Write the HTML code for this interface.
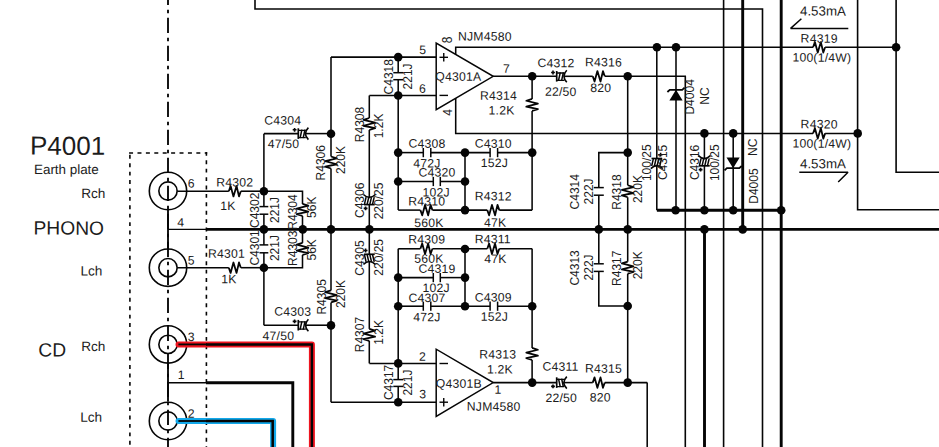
<!DOCTYPE html>
<html><head><meta charset="utf-8"><title>schematic</title>
<style>
html,body{margin:0;padding:0;background:#fff;}
body{width:939px;height:447px;overflow:hidden;}
svg{display:block;}
text{font-family:"Liberation Sans",sans-serif;}
</style></head><body>
<svg width="939" height="447" viewBox="0 0 939 447">
<rect width="939" height="447" fill="#fff"/>
<path d="M255.00,0.00 L255.00,9.00 L762.50,9.00 L762.50,447.00" fill="none" stroke="#050505" stroke-width="1.6" stroke-linecap="butt" stroke-linejoin="miter" />
<path d="M168,0 L168,447" stroke="#050505" stroke-width="1.85" fill="none" stroke-dasharray="15.3 4.55 3.5 4.65" stroke-dashoffset="10.20"/>
<path d="M168.00,210.00 L168.00,248.80" fill="none" stroke="#050505" stroke-width="1.85" stroke-linecap="butt" stroke-linejoin="miter" />
<path d="M168.00,363.50 L168.00,401.50" fill="none" stroke="#050505" stroke-width="1.85" stroke-linecap="butt" stroke-linejoin="miter" />
<path d="M129.06,153 L207.2,153" stroke="#050505" stroke-width="1.6" fill="none" stroke-dasharray="4.0 4.41" stroke-dashoffset="0"/>
<path d="M129.9,154.85 L129.9,447" stroke="#050505" stroke-width="1.6" fill="none" stroke-dasharray="3.9 4.51" stroke-dashoffset="0"/>
<path d="M206.4,151.9 L206.4,447" stroke="#050505" stroke-width="1.6" fill="none" stroke-dasharray="3.9 4.51" stroke-dashoffset="0"/>
<circle cx="168" cy="191" r="18.7" fill="none" stroke="#050505" stroke-width="1.6"/>
<circle cx="168" cy="191" r="9.15" fill="none" stroke="#050505" stroke-width="1.6"/>
<circle cx="168" cy="267.7" r="18.7" fill="none" stroke="#050505" stroke-width="1.6"/>
<circle cx="168" cy="267.7" r="9.15" fill="none" stroke="#050505" stroke-width="1.6"/>
<circle cx="168" cy="344.4" r="18.7" fill="none" stroke="#050505" stroke-width="1.6"/>
<circle cx="168" cy="344.4" r="9.15" fill="none" stroke="#050505" stroke-width="1.6"/>
<circle cx="168" cy="421.0" r="18.7" fill="none" stroke="#050505" stroke-width="1.6"/>
<circle cx="168" cy="421.0" r="9.15" fill="none" stroke="#050505" stroke-width="1.6"/>
<path d="M178.50,344.50 L311.90,344.50 L311.90,447.00" fill="none" stroke="#ee141f" stroke-width="6.0" stroke-linecap="round" stroke-linejoin="round" />
<path d="M178.40,344.40 L207.00,344.40" fill="none" stroke="#050505" stroke-width="1.8" stroke-linecap="butt" stroke-linejoin="miter" />
<path d="M206.00,344.50 L311.90,344.50 L311.90,447.00" fill="none" stroke="#050505" stroke-width="2.4" stroke-linecap="butt" stroke-linejoin="miter" />
<path d="M178.50,421.10 L273.10,421.10 L273.10,447.00" fill="none" stroke="#12a8ea" stroke-width="6.0" stroke-linecap="round" stroke-linejoin="round" />
<path d="M178.40,421.00 L207.00,421.00" fill="none" stroke="#050505" stroke-width="1.8" stroke-linecap="butt" stroke-linejoin="miter" />
<path d="M206.00,421.10 L272.70,421.10 L272.70,447.00" fill="none" stroke="#050505" stroke-width="2.5" stroke-linecap="butt" stroke-linejoin="miter" />
<path d="M177.30,191.20 L228.80,191.20" fill="none" stroke="#050505" stroke-width="1.55" stroke-linecap="butt" stroke-linejoin="miter" />
<path d="M240.80,191.20 L263.90,191.20" fill="none" stroke="#050505" stroke-width="1.55" stroke-linecap="butt" stroke-linejoin="miter" />
<path d="M228.80,191.20 L230.60,186.00 L233.45,196.40 L236.55,186.00 L239.00,196.40 L240.80,191.20" fill="none" stroke="#050505" stroke-width="1.8" stroke-linecap="butt" stroke-linejoin="round" />
<path d="M177.30,267.70 L228.80,267.70" fill="none" stroke="#050505" stroke-width="1.55" stroke-linecap="butt" stroke-linejoin="miter" />
<path d="M240.80,267.70 L263.90,267.70" fill="none" stroke="#050505" stroke-width="1.55" stroke-linecap="butt" stroke-linejoin="miter" />
<path d="M228.80,267.70 L230.60,272.90 L233.45,262.50 L236.55,272.90 L239.00,262.50 L240.80,267.70" fill="none" stroke="#050505" stroke-width="1.8" stroke-linecap="butt" stroke-linejoin="round" />
<path d="M168.00,229.40 L207.00,229.40" fill="none" stroke="#050505" stroke-width="1.4" stroke-linecap="butt" stroke-linejoin="miter" />
<path d="M206.00,229.40 L939.00,229.40" fill="none" stroke="#050505" stroke-width="2.9" stroke-linecap="butt" stroke-linejoin="miter" />
<path d="M168.00,382.70 L207.00,382.70" fill="none" stroke="#050505" stroke-width="1.4" stroke-linecap="butt" stroke-linejoin="miter" />
<path d="M206.00,382.70 L292.80,382.70 L292.80,447.00" fill="none" stroke="#050505" stroke-width="2.9" stroke-linecap="butt" stroke-linejoin="miter" />
<path d="M263.90,133.70 L263.90,206.60" fill="none" stroke="#050505" stroke-width="1.55" stroke-linecap="butt" stroke-linejoin="miter" />
<path d="M263.90,214.20 L263.90,244.90" fill="none" stroke="#050505" stroke-width="1.55" stroke-linecap="butt" stroke-linejoin="miter" />
<path d="M263.90,252.80 L263.90,325.30" fill="none" stroke="#050505" stroke-width="1.55" stroke-linecap="butt" stroke-linejoin="miter" />
<path d="M259.50,206.60 L268.30,206.60" fill="none" stroke="#050505" stroke-width="1.5" stroke-linecap="butt" stroke-linejoin="miter" />
<path d="M259.50,214.20 L268.30,214.20" fill="none" stroke="#050505" stroke-width="1.5" stroke-linecap="butt" stroke-linejoin="miter" />
<path d="M259.50,244.90 L268.30,244.90" fill="none" stroke="#050505" stroke-width="1.5" stroke-linecap="butt" stroke-linejoin="miter" />
<path d="M259.50,252.80 L268.30,252.80" fill="none" stroke="#050505" stroke-width="1.5" stroke-linecap="butt" stroke-linejoin="miter" />
<path d="M263.90,133.60 L298.30,133.60" fill="none" stroke="#050505" stroke-width="1.55" stroke-linecap="butt" stroke-linejoin="miter" />
<path d="M305.50,133.60 L331.00,133.60" fill="none" stroke="#050505" stroke-width="1.55" stroke-linecap="butt" stroke-linejoin="miter" />
<g fill="none" stroke="#050505"><path d="M298.30,128.30 L298.30,138.90" stroke-width="1.7"/><path d="M308.40,127.60 Q302.60,133.60 308.40,139.60" stroke-width="1.6"/><path d="M298.30,130.30 L305.80,130.30 M298.30,137.60 L305.80,137.60" stroke-width="1.3"/><path d="M300.10,138.00 L301.90,129.70" stroke-width="1.5"/><path d="M303.20,138.00 L305.00,129.70" stroke-width="1.5"/><path d="M292.70,129.80 L296.50,129.80 M294.60,127.90 L294.60,131.70" stroke-width="1.6"/></g>
<path d="M263.90,325.20 L298.30,325.20" fill="none" stroke="#050505" stroke-width="1.55" stroke-linecap="butt" stroke-linejoin="miter" />
<path d="M305.50,325.20 L331.00,325.20" fill="none" stroke="#050505" stroke-width="1.55" stroke-linecap="butt" stroke-linejoin="miter" />
<g fill="none" stroke="#050505"><path d="M298.30,319.90 L298.30,330.50" stroke-width="1.7"/><path d="M308.40,319.20 Q302.60,325.20 308.40,331.20" stroke-width="1.6"/><path d="M298.30,321.90 L305.80,321.90 M298.30,329.20 L305.80,329.20" stroke-width="1.3"/><path d="M300.10,329.60 L301.90,321.30" stroke-width="1.5"/><path d="M303.20,329.60 L305.00,321.30" stroke-width="1.5"/><path d="M292.70,321.40 L296.50,321.40 M294.60,319.50 L294.60,323.30" stroke-width="1.6"/></g>
<path d="M263.90,191.20 L302.50,191.20 L302.50,203.90" fill="none" stroke="#050505" stroke-width="1.55" stroke-linecap="butt" stroke-linejoin="miter" />
<path d="M302.50,203.90 L308.30,205.70 L296.70,208.55 L308.30,211.65 L296.70,214.10 L302.50,215.90" fill="none" stroke="#050505" stroke-width="1.8" stroke-linecap="butt" stroke-linejoin="round" />
<path d="M302.50,215.90 L302.50,229.40" fill="none" stroke="#050505" stroke-width="1.55" stroke-linecap="butt" stroke-linejoin="miter" />
<path d="M263.90,267.70 L302.50,267.70 L302.50,254.90" fill="none" stroke="#050505" stroke-width="1.55" stroke-linecap="butt" stroke-linejoin="miter" />
<path d="M302.50,242.90 L296.70,244.70 L308.30,247.55 L296.70,250.65 L308.30,253.10 L302.50,254.90" fill="none" stroke="#050505" stroke-width="1.8" stroke-linecap="butt" stroke-linejoin="round" />
<path d="M302.50,242.90 L302.50,229.40" fill="none" stroke="#050505" stroke-width="1.55" stroke-linecap="butt" stroke-linejoin="miter" />
<path d="M331.00,57.10 L331.00,156.50" fill="none" stroke="#050505" stroke-width="1.55" stroke-linecap="butt" stroke-linejoin="miter" />
<path d="M331.00,168.50 L331.00,290.40" fill="none" stroke="#050505" stroke-width="1.55" stroke-linecap="butt" stroke-linejoin="miter" />
<path d="M331.00,302.40 L331.00,402.20" fill="none" stroke="#050505" stroke-width="1.55" stroke-linecap="butt" stroke-linejoin="miter" />
<path d="M331.00,156.50 L336.80,158.30 L325.20,161.15 L336.80,164.25 L325.20,166.70 L331.00,168.50" fill="none" stroke="#050505" stroke-width="1.8" stroke-linecap="butt" stroke-linejoin="round" />
<path d="M331.00,290.40 L325.20,292.20 L336.80,295.05 L325.20,298.15 L336.80,300.60 L331.00,302.40" fill="none" stroke="#050505" stroke-width="1.8" stroke-linecap="butt" stroke-linejoin="round" />
<path d="M331.00,57.10 L436.00,57.10" fill="none" stroke="#050505" stroke-width="1.55" stroke-linecap="butt" stroke-linejoin="miter" />
<path d="M331.00,402.20 L436.00,402.20" fill="none" stroke="#050505" stroke-width="1.55" stroke-linecap="butt" stroke-linejoin="miter" />
<path d="M369.30,95.50 L369.30,118.00" fill="none" stroke="#050505" stroke-width="1.55" stroke-linecap="butt" stroke-linejoin="miter" />
<path d="M369.30,130.00 L369.30,197.20" fill="none" stroke="#050505" stroke-width="1.55" stroke-linecap="butt" stroke-linejoin="miter" />
<path d="M369.30,204.80 L369.30,254.10" fill="none" stroke="#050505" stroke-width="1.55" stroke-linecap="butt" stroke-linejoin="miter" />
<path d="M369.30,261.70 L369.30,328.90" fill="none" stroke="#050505" stroke-width="1.55" stroke-linecap="butt" stroke-linejoin="miter" />
<path d="M369.30,340.90 L369.30,363.40" fill="none" stroke="#050505" stroke-width="1.55" stroke-linecap="butt" stroke-linejoin="miter" />
<path d="M369.30,118.00 L363.50,119.80 L375.10,122.65 L363.50,125.75 L375.10,128.20 L369.30,130.00" fill="none" stroke="#050505" stroke-width="1.8" stroke-linecap="butt" stroke-linejoin="round" />
<path d="M369.30,328.90 L375.10,330.70 L363.50,333.55 L375.10,336.65 L363.50,339.10 L369.30,340.90" fill="none" stroke="#050505" stroke-width="1.8" stroke-linecap="butt" stroke-linejoin="round" />
<g fill="none" stroke="#050505"><path d="M364.10,204.60 L374.70,204.60" stroke-width="1.7"/><path d="M363.40,194.50 Q369.40,200.30 375.40,194.50" stroke-width="1.6"/><path d="M364.30,204.90 L366.10,197.10" stroke-width="1.5"/><path d="M367.00,204.90 L368.80,197.10" stroke-width="1.5"/><path d="M369.70,204.90 L371.50,197.10" stroke-width="1.5"/><path d="M372.40,204.90 L374.20,197.10" stroke-width="1.5"/><path d="M363.70,208.40 L367.50,208.40 M365.60,206.50 L365.60,210.30" stroke-width="1.6"/></g>
<g fill="none" stroke="#050505"><path d="M364.10,254.30 L374.70,254.30" stroke-width="1.7"/><path d="M363.40,264.40 Q369.40,258.60 375.40,264.40" stroke-width="1.6"/><path d="M366.10,261.80 L364.30,254.00" stroke-width="1.5"/><path d="M368.80,261.80 L367.00,254.00" stroke-width="1.5"/><path d="M371.50,261.80 L369.70,254.00" stroke-width="1.5"/><path d="M374.20,261.80 L372.40,254.00" stroke-width="1.5"/><path d="M363.70,250.50 L367.50,250.50 M365.60,248.60 L365.60,252.40" stroke-width="1.6"/></g>
<path d="M369.40,95.50 L436.00,95.50" fill="none" stroke="#050505" stroke-width="1.55" stroke-linecap="butt" stroke-linejoin="miter" />
<path d="M369.40,363.40 L436.00,363.40" fill="none" stroke="#050505" stroke-width="1.55" stroke-linecap="butt" stroke-linejoin="miter" />
<path d="M398.20,57.10 L398.20,72.70" fill="none" stroke="#050505" stroke-width="1.55" stroke-linecap="butt" stroke-linejoin="miter" />
<path d="M398.20,79.70 L398.20,210.10" fill="none" stroke="#050505" stroke-width="1.55" stroke-linecap="butt" stroke-linejoin="miter" />
<path d="M393.30,72.70 L403.10,72.70" fill="none" stroke="#050505" stroke-width="1.5" stroke-linecap="butt" stroke-linejoin="miter" />
<path d="M393.30,79.70 L403.10,79.70" fill="none" stroke="#050505" stroke-width="1.5" stroke-linecap="butt" stroke-linejoin="miter" />
<path d="M398.20,248.80 L398.20,379.60" fill="none" stroke="#050505" stroke-width="1.55" stroke-linecap="butt" stroke-linejoin="miter" />
<path d="M398.20,386.40 L398.20,402.20" fill="none" stroke="#050505" stroke-width="1.55" stroke-linecap="butt" stroke-linejoin="miter" />
<path d="M393.30,379.60 L403.10,379.60" fill="none" stroke="#050505" stroke-width="1.5" stroke-linecap="butt" stroke-linejoin="miter" />
<path d="M393.30,386.40 L403.10,386.40" fill="none" stroke="#050505" stroke-width="1.5" stroke-linecap="butt" stroke-linejoin="miter" />
<path d="M398.20,210.10 L420.40,210.10" fill="none" stroke="#050505" stroke-width="1.55" stroke-linecap="butt" stroke-linejoin="miter" />
<path d="M432.40,210.10 L487.30,210.10" fill="none" stroke="#050505" stroke-width="1.55" stroke-linecap="butt" stroke-linejoin="miter" />
<path d="M499.30,210.10 L532.20,210.10" fill="none" stroke="#050505" stroke-width="1.55" stroke-linecap="butt" stroke-linejoin="miter" />
<path d="M420.40,210.10 L422.20,215.30 L425.05,204.90 L428.15,215.30 L430.60,204.90 L432.40,210.10" fill="none" stroke="#050505" stroke-width="1.8" stroke-linecap="butt" stroke-linejoin="round" />
<path d="M487.30,210.10 L489.10,215.30 L491.95,204.90 L495.05,215.30 L497.50,204.90 L499.30,210.10" fill="none" stroke="#050505" stroke-width="1.8" stroke-linecap="butt" stroke-linejoin="round" />
<path d="M398.20,248.80 L420.40,248.80" fill="none" stroke="#050505" stroke-width="1.55" stroke-linecap="butt" stroke-linejoin="miter" />
<path d="M432.40,248.80 L487.30,248.80" fill="none" stroke="#050505" stroke-width="1.55" stroke-linecap="butt" stroke-linejoin="miter" />
<path d="M499.30,248.80 L532.20,248.80" fill="none" stroke="#050505" stroke-width="1.55" stroke-linecap="butt" stroke-linejoin="miter" />
<path d="M420.40,248.80 L422.20,243.60 L425.05,254.00 L428.15,243.60 L430.60,254.00 L432.40,248.80" fill="none" stroke="#050505" stroke-width="1.8" stroke-linecap="butt" stroke-linejoin="round" />
<path d="M487.30,248.80 L489.10,243.60 L491.95,254.00 L495.05,243.60 L497.50,254.00 L499.30,248.80" fill="none" stroke="#050505" stroke-width="1.8" stroke-linecap="butt" stroke-linejoin="round" />
<path d="M398.20,152.60 L423.30,152.60" fill="none" stroke="#050505" stroke-width="1.55" stroke-linecap="butt" stroke-linejoin="miter" />
<path d="M430.80,152.60 L490.10,152.60" fill="none" stroke="#050505" stroke-width="1.55" stroke-linecap="butt" stroke-linejoin="miter" />
<path d="M497.60,152.60 L532.20,152.60" fill="none" stroke="#050505" stroke-width="1.55" stroke-linecap="butt" stroke-linejoin="miter" />
<path d="M423.30,148.00 L423.30,157.20" fill="none" stroke="#050505" stroke-width="1.5" stroke-linecap="butt" stroke-linejoin="miter" />
<path d="M430.80,148.00 L430.80,157.20" fill="none" stroke="#050505" stroke-width="1.5" stroke-linecap="butt" stroke-linejoin="miter" />
<path d="M490.10,148.00 L490.10,157.20" fill="none" stroke="#050505" stroke-width="1.5" stroke-linecap="butt" stroke-linejoin="miter" />
<path d="M497.60,148.00 L497.60,157.20" fill="none" stroke="#050505" stroke-width="1.5" stroke-linecap="butt" stroke-linejoin="miter" />
<path d="M398.20,181.50 L433.30,181.50" fill="none" stroke="#050505" stroke-width="1.55" stroke-linecap="butt" stroke-linejoin="miter" />
<path d="M440.30,181.50 L465.00,181.50" fill="none" stroke="#050505" stroke-width="1.55" stroke-linecap="butt" stroke-linejoin="miter" />
<path d="M433.30,176.90 L433.30,186.10" fill="none" stroke="#050505" stroke-width="1.5" stroke-linecap="butt" stroke-linejoin="miter" />
<path d="M440.30,176.90 L440.30,186.10" fill="none" stroke="#050505" stroke-width="1.5" stroke-linecap="butt" stroke-linejoin="miter" />
<path d="M398.20,277.60 L433.30,277.60" fill="none" stroke="#050505" stroke-width="1.55" stroke-linecap="butt" stroke-linejoin="miter" />
<path d="M440.30,277.60 L465.00,277.60" fill="none" stroke="#050505" stroke-width="1.55" stroke-linecap="butt" stroke-linejoin="miter" />
<path d="M433.30,273.00 L433.30,282.20" fill="none" stroke="#050505" stroke-width="1.5" stroke-linecap="butt" stroke-linejoin="miter" />
<path d="M440.30,273.00 L440.30,282.20" fill="none" stroke="#050505" stroke-width="1.5" stroke-linecap="butt" stroke-linejoin="miter" />
<path d="M398.20,306.20 L423.30,306.20" fill="none" stroke="#050505" stroke-width="1.55" stroke-linecap="butt" stroke-linejoin="miter" />
<path d="M430.80,306.20 L490.10,306.20" fill="none" stroke="#050505" stroke-width="1.55" stroke-linecap="butt" stroke-linejoin="miter" />
<path d="M497.60,306.20 L532.20,306.20" fill="none" stroke="#050505" stroke-width="1.55" stroke-linecap="butt" stroke-linejoin="miter" />
<path d="M423.30,301.60 L423.30,310.80" fill="none" stroke="#050505" stroke-width="1.5" stroke-linecap="butt" stroke-linejoin="miter" />
<path d="M430.80,301.60 L430.80,310.80" fill="none" stroke="#050505" stroke-width="1.5" stroke-linecap="butt" stroke-linejoin="miter" />
<path d="M490.10,301.60 L490.10,310.80" fill="none" stroke="#050505" stroke-width="1.5" stroke-linecap="butt" stroke-linejoin="miter" />
<path d="M497.60,301.60 L497.60,310.80" fill="none" stroke="#050505" stroke-width="1.5" stroke-linecap="butt" stroke-linejoin="miter" />
<path d="M465.00,152.60 L465.00,210.10" fill="none" stroke="#050505" stroke-width="1.55" stroke-linecap="butt" stroke-linejoin="miter" />
<path d="M465.00,248.80 L465.00,306.20" fill="none" stroke="#050505" stroke-width="1.55" stroke-linecap="butt" stroke-linejoin="miter" />
<path d="M532.10,76.30 L532.10,98.95" fill="none" stroke="#050505" stroke-width="1.55" stroke-linecap="butt" stroke-linejoin="miter" />
<path d="M532.10,110.95 L532.10,210.10" fill="none" stroke="#050505" stroke-width="1.55" stroke-linecap="butt" stroke-linejoin="miter" />
<path d="M532.10,98.95 L526.30,100.75 L537.90,103.60 L526.30,106.70 L537.90,109.15 L532.10,110.95" fill="none" stroke="#050505" stroke-width="1.8" stroke-linecap="butt" stroke-linejoin="round" />
<path d="M532.10,248.80 L532.10,347.95" fill="none" stroke="#050505" stroke-width="1.55" stroke-linecap="butt" stroke-linejoin="miter" />
<path d="M532.10,359.95 L532.10,382.60" fill="none" stroke="#050505" stroke-width="1.55" stroke-linecap="butt" stroke-linejoin="miter" />
<path d="M532.10,347.95 L537.90,349.75 L526.30,352.60 L537.90,355.70 L526.30,358.15 L532.10,359.95" fill="none" stroke="#050505" stroke-width="1.8" stroke-linecap="butt" stroke-linejoin="round" />
<path d="M436.2,43.1 L436.2,109.7 L493.2,76.3 Z" fill="none" stroke="#050505" stroke-width="1.5" stroke-linejoin="miter"/>
<path d="M436.2,349.2 L436.2,416.4 L493.2,382.6 Z" fill="none" stroke="#050505" stroke-width="1.5" stroke-linejoin="miter"/>
<path d="M439.50,57.30 L448.00,57.30" fill="none" stroke="#050505" stroke-width="1.4" stroke-linecap="butt" stroke-linejoin="miter" />
<path d="M443.75,53.10 L443.75,61.50" fill="none" stroke="#050505" stroke-width="1.4" stroke-linecap="butt" stroke-linejoin="miter" />
<path d="M439.50,95.40 L448.00,95.40" fill="none" stroke="#050505" stroke-width="1.4" stroke-linecap="butt" stroke-linejoin="miter" />
<path d="M439.50,363.50 L448.00,363.50" fill="none" stroke="#050505" stroke-width="1.4" stroke-linecap="butt" stroke-linejoin="miter" />
<path d="M439.50,402.20 L448.00,402.20" fill="none" stroke="#050505" stroke-width="1.4" stroke-linecap="butt" stroke-linejoin="miter" />
<path d="M443.75,398.00 L443.75,406.40" fill="none" stroke="#050505" stroke-width="1.4" stroke-linecap="butt" stroke-linejoin="miter" />
<path d="M493.20,76.30 L556.70,76.30" fill="none" stroke="#050505" stroke-width="1.55" stroke-linecap="butt" stroke-linejoin="miter" />
<path d="M563.90,76.30 L592.75,76.30" fill="none" stroke="#050505" stroke-width="1.55" stroke-linecap="butt" stroke-linejoin="miter" />
<path d="M604.75,76.30 L686.00,76.30" fill="none" stroke="#050505" stroke-width="1.55" stroke-linecap="butt" stroke-linejoin="miter" />
<g fill="none" stroke="#050505"><path d="M556.70,71.00 L556.70,81.60" stroke-width="1.7"/><path d="M566.80,70.30 Q561.00,76.30 566.80,82.30" stroke-width="1.6"/><path d="M556.70,73.00 L564.20,73.00 M556.70,80.30 L564.20,80.30" stroke-width="1.3"/><path d="M558.50,80.70 L560.30,72.40" stroke-width="1.5"/><path d="M561.60,80.70 L563.40,72.40" stroke-width="1.5"/><path d="M551.10,72.50 L554.90,72.50 M553.00,70.60 L553.00,74.40" stroke-width="1.6"/></g>
<path d="M592.75,76.30 L594.55,81.50 L597.40,71.10 L600.50,81.50 L602.95,71.10 L604.75,76.30" fill="none" stroke="#050505" stroke-width="1.8" stroke-linecap="butt" stroke-linejoin="round" />
<path d="M685.30,76.30 L685.30,447.00" fill="none" stroke="#050505" stroke-width="1.6" stroke-linecap="butt" stroke-linejoin="miter" />
<path d="M493.20,382.60 L556.70,382.60" fill="none" stroke="#050505" stroke-width="1.55" stroke-linecap="butt" stroke-linejoin="miter" />
<path d="M563.90,382.60 L592.75,382.60" fill="none" stroke="#050505" stroke-width="1.55" stroke-linecap="butt" stroke-linejoin="miter" />
<path d="M604.75,382.60 L647.20,382.60" fill="none" stroke="#050505" stroke-width="1.55" stroke-linecap="butt" stroke-linejoin="miter" />
<g fill="none" stroke="#050505"><path d="M556.70,377.30 L556.70,387.90" stroke-width="1.7"/><path d="M566.80,376.60 Q561.00,382.60 566.80,388.60" stroke-width="1.6"/><path d="M556.70,379.30 L564.20,379.30 M556.70,386.60 L564.20,386.60" stroke-width="1.3"/><path d="M560.30,387.00 L558.50,378.70" stroke-width="1.5"/><path d="M563.40,387.00 L561.60,378.70" stroke-width="1.5"/><path d="M551.10,386.40 L554.90,386.40 M553.00,384.50 L553.00,388.30" stroke-width="1.6"/></g>
<path d="M592.75,382.60 L594.55,377.40 L597.40,387.80 L600.50,377.40 L602.95,387.80 L604.75,382.60" fill="none" stroke="#050505" stroke-width="1.8" stroke-linecap="butt" stroke-linejoin="round" />
<path d="M647.20,382.60 L647.20,447.00" fill="none" stroke="#050505" stroke-width="1.55" stroke-linecap="butt" stroke-linejoin="miter" />
<path d="M455.70,54.50 L455.70,47.30 L813.10,47.30" fill="none" stroke="#050505" stroke-width="1.55" stroke-linecap="butt" stroke-linejoin="miter" />
<path d="M813.10,47.30 L814.90,42.10 L817.75,52.50 L820.85,42.10 L823.30,52.50 L825.10,47.30" fill="none" stroke="#050505" stroke-width="1.8" stroke-linecap="butt" stroke-linejoin="round" />
<path d="M825.10,47.30 L896.10,47.30" fill="none" stroke="#050505" stroke-width="1.55" stroke-linecap="butt" stroke-linejoin="miter" />
<path d="M455.70,98.00 L455.70,133.40 L813.10,133.40" fill="none" stroke="#050505" stroke-width="1.55" stroke-linecap="butt" stroke-linejoin="miter" />
<path d="M813.10,133.40 L814.90,128.20 L817.75,138.60 L820.85,128.20 L823.30,138.60 L825.10,133.40" fill="none" stroke="#050505" stroke-width="1.8" stroke-linecap="butt" stroke-linejoin="round" />
<path d="M825.10,133.40 L857.70,133.40" fill="none" stroke="#050505" stroke-width="1.55" stroke-linecap="butt" stroke-linejoin="miter" />
<path d="M627.70,76.30 L627.70,185.25" fill="none" stroke="#050505" stroke-width="1.55" stroke-linecap="butt" stroke-linejoin="miter" />
<path d="M627.70,197.25 L627.70,261.65" fill="none" stroke="#050505" stroke-width="1.55" stroke-linecap="butt" stroke-linejoin="miter" />
<path d="M627.70,273.65 L627.70,382.60" fill="none" stroke="#050505" stroke-width="1.55" stroke-linecap="butt" stroke-linejoin="miter" />
<path d="M627.70,185.25 L633.50,187.05 L621.90,189.90 L633.50,193.00 L621.90,195.45 L627.70,197.25" fill="none" stroke="#050505" stroke-width="1.8" stroke-linecap="butt" stroke-linejoin="round" />
<path d="M627.70,261.65 L621.90,263.45 L633.50,266.30 L621.90,269.40 L633.50,271.85 L627.70,273.65" fill="none" stroke="#050505" stroke-width="1.8" stroke-linecap="butt" stroke-linejoin="round" />
<path d="M627.70,152.60 L598.80,152.60 L598.80,187.60" fill="none" stroke="#050505" stroke-width="1.55" stroke-linecap="butt" stroke-linejoin="miter" />
<path d="M598.80,195.20 L598.80,263.80" fill="none" stroke="#050505" stroke-width="1.55" stroke-linecap="butt" stroke-linejoin="miter" />
<path d="M598.80,271.40 L598.80,306.00 L627.70,306.00" fill="none" stroke="#050505" stroke-width="1.55" stroke-linecap="butt" stroke-linejoin="miter" />
<path d="M593.80,187.60 L603.80,187.60" fill="none" stroke="#050505" stroke-width="1.5" stroke-linecap="butt" stroke-linejoin="miter" />
<path d="M593.80,195.20 L603.80,195.20" fill="none" stroke="#050505" stroke-width="1.5" stroke-linecap="butt" stroke-linejoin="miter" />
<path d="M593.80,263.80 L603.80,263.80" fill="none" stroke="#050505" stroke-width="1.5" stroke-linecap="butt" stroke-linejoin="miter" />
<path d="M593.80,271.40 L603.80,271.40" fill="none" stroke="#050505" stroke-width="1.5" stroke-linecap="butt" stroke-linejoin="miter" />
<path d="M656.80,47.30 L656.80,158.30" fill="none" stroke="#050505" stroke-width="1.55" stroke-linecap="butt" stroke-linejoin="miter" />
<path d="M656.80,165.90 L656.80,210.30" fill="none" stroke="#050505" stroke-width="1.55" stroke-linecap="butt" stroke-linejoin="miter" />
<g fill="none" stroke="#050505"><path d="M651.50,158.50 L662.10,158.50" stroke-width="1.7"/><path d="M650.80,168.60 Q656.80,162.80 662.80,168.60" stroke-width="1.6"/><path d="M651.70,166.00 L653.50,158.20" stroke-width="1.5"/><path d="M654.40,166.00 L656.20,158.20" stroke-width="1.5"/><path d="M657.10,166.00 L658.90,158.20" stroke-width="1.5"/><path d="M659.80,166.00 L661.60,158.20" stroke-width="1.5"/><path d="M658.70,154.70 L662.50,154.70 M660.60,152.80 L660.60,156.60" stroke-width="1.6"/></g>
<path d="M676.00,47.30 L676.00,210.30" fill="none" stroke="#050505" stroke-width="1.55" stroke-linecap="butt" stroke-linejoin="miter" />
<path d="M704.40,133.40 L704.40,158.40" fill="none" stroke="#050505" stroke-width="1.55" stroke-linecap="butt" stroke-linejoin="miter" />
<path d="M704.40,166.00 L704.40,210.30" fill="none" stroke="#050505" stroke-width="1.55" stroke-linecap="butt" stroke-linejoin="miter" />
<g fill="none" stroke="#050505"><path d="M699.10,165.80 L709.70,165.80" stroke-width="1.7"/><path d="M698.40,155.70 Q704.40,161.50 710.40,155.70" stroke-width="1.6"/><path d="M699.30,166.10 L701.10,158.30" stroke-width="1.5"/><path d="M702.00,166.10 L703.80,158.30" stroke-width="1.5"/><path d="M704.70,166.10 L706.50,158.30" stroke-width="1.5"/><path d="M707.40,166.10 L709.20,158.30" stroke-width="1.5"/><path d="M698.70,169.60 L702.50,169.60 M700.60,167.70 L700.60,171.50" stroke-width="1.6"/></g>
<path d="M723.60,0.00 L723.60,447.00" fill="none" stroke="#050505" stroke-width="1.6" stroke-linecap="butt" stroke-linejoin="miter" />
<path d="M733.20,133.40 L733.20,210.30" fill="none" stroke="#050505" stroke-width="1.55" stroke-linecap="butt" stroke-linejoin="miter" />
<path d="M742.70,0.00 L742.70,229.40" fill="none" stroke="#050505" stroke-width="2.9" stroke-linecap="butt" stroke-linejoin="miter" />
<path d="M781.20,0.00 L781.20,447.00" fill="none" stroke="#050505" stroke-width="2.9" stroke-linecap="butt" stroke-linejoin="miter" />
<path d="M857.60,0.00 L857.60,209.80 L939.00,209.80" fill="none" stroke="#050505" stroke-width="1.6" stroke-linecap="butt" stroke-linejoin="miter" />
<path d="M896.10,0.00 L896.10,172.20 L939.00,172.20" fill="none" stroke="#050505" stroke-width="1.6" stroke-linecap="butt" stroke-linejoin="miter" />
<path d="M656.90,210.30 L781.20,210.30" fill="none" stroke="#050505" stroke-width="2.9" stroke-linecap="butt" stroke-linejoin="miter" />
<path d="M704.50,229.40 L704.50,447.00" fill="none" stroke="#050505" stroke-width="2.9" stroke-linecap="butt" stroke-linejoin="miter" />
<path d="M669.4,100.6 L682.6,100.6 L676,89.8 Z" fill="#050505"/>
<path d="M667.40,92.00 L669.80,89.80 L682.20,89.80 L684.60,87.60" fill="none" stroke="#050505" stroke-width="1.8" stroke-linecap="butt" stroke-linejoin="miter" />
<path d="M726.5,157.5 L739.7,157.5 L733.1,168.2 Z" fill="#050505"/>
<path d="M724.50,170.40 L726.90,168.20 L739.30,168.20 L741.70,166.00" fill="none" stroke="#050505" stroke-width="1.8" stroke-linecap="butt" stroke-linejoin="miter" />
<path d="M801.40,18.80 L790.60,28.40 L848.30,28.40" fill="none" stroke="#050505" stroke-width="1.5" stroke-linecap="butt" stroke-linejoin="bevel" />
<path d="M799.30,172.20 L848.00,172.20 L838.20,182.00" fill="none" stroke="#050505" stroke-width="1.5" stroke-linecap="butt" stroke-linejoin="bevel" />
<circle cx="263.90" cy="191.20" r="4.3" fill="#050505"/>
<circle cx="263.90" cy="229.40" r="4.3" fill="#050505"/>
<circle cx="263.90" cy="267.70" r="4.3" fill="#050505"/>
<circle cx="302.80" cy="229.40" r="4.3" fill="#050505"/>
<circle cx="331.00" cy="133.80" r="4.3" fill="#050505"/>
<circle cx="331.00" cy="229.40" r="4.3" fill="#050505"/>
<circle cx="331.00" cy="325.40" r="4.3" fill="#050505"/>
<circle cx="369.40" cy="229.40" r="4.3" fill="#050505"/>
<circle cx="398.20" cy="57.10" r="4.3" fill="#050505"/>
<circle cx="398.20" cy="95.50" r="4.3" fill="#050505"/>
<circle cx="398.20" cy="152.60" r="4.3" fill="#050505"/>
<circle cx="398.20" cy="181.50" r="4.3" fill="#050505"/>
<circle cx="398.20" cy="277.60" r="4.3" fill="#050505"/>
<circle cx="398.20" cy="306.20" r="4.3" fill="#050505"/>
<circle cx="398.20" cy="363.40" r="4.3" fill="#050505"/>
<circle cx="398.20" cy="402.20" r="4.3" fill="#050505"/>
<circle cx="465.00" cy="152.60" r="4.3" fill="#050505"/>
<circle cx="465.00" cy="181.50" r="4.3" fill="#050505"/>
<circle cx="465.00" cy="210.10" r="4.3" fill="#050505"/>
<circle cx="465.00" cy="249.00" r="4.3" fill="#050505"/>
<circle cx="465.00" cy="277.60" r="4.3" fill="#050505"/>
<circle cx="465.00" cy="306.20" r="4.3" fill="#050505"/>
<circle cx="532.20" cy="76.30" r="4.3" fill="#050505"/>
<circle cx="532.20" cy="152.60" r="4.3" fill="#050505"/>
<circle cx="532.20" cy="306.20" r="4.3" fill="#050505"/>
<circle cx="532.20" cy="382.60" r="4.3" fill="#050505"/>
<circle cx="627.70" cy="76.30" r="4.3" fill="#050505"/>
<circle cx="627.70" cy="152.60" r="4.3" fill="#050505"/>
<circle cx="627.70" cy="229.40" r="4.3" fill="#050505"/>
<circle cx="627.70" cy="306.00" r="4.3" fill="#050505"/>
<circle cx="627.70" cy="382.60" r="4.3" fill="#050505"/>
<circle cx="598.80" cy="229.40" r="4.3" fill="#050505"/>
<circle cx="656.90" cy="47.30" r="4.3" fill="#050505"/>
<circle cx="676.00" cy="47.30" r="4.3" fill="#050505"/>
<circle cx="675.60" cy="210.30" r="4.3" fill="#050505"/>
<circle cx="704.40" cy="133.40" r="4.3" fill="#050505"/>
<circle cx="733.20" cy="133.40" r="4.3" fill="#050505"/>
<circle cx="704.40" cy="210.30" r="4.3" fill="#050505"/>
<circle cx="733.20" cy="210.30" r="4.3" fill="#050505"/>
<circle cx="781.20" cy="210.30" r="4.3" fill="#050505"/>
<circle cx="704.40" cy="229.40" r="4.3" fill="#050505"/>
<circle cx="742.70" cy="229.40" r="4.3" fill="#050505"/>
<circle cx="857.70" cy="133.40" r="4.3" fill="#050505"/>
<circle cx="896.10" cy="47.30" r="4.3" fill="#050505"/>
<text transform="translate(30.02,154.60) rotate(0.2)" font-size="26" fill="#1c1c1c">P4001</text>
<text transform="translate(34.03,173.90) rotate(0.2)" font-size="13.4" fill="#1c1c1c">Earth plate</text>
<text transform="translate(81.21,198.00) rotate(0.2)" font-size="13.6" fill="#1c1c1c">Rch</text>
<text transform="translate(33.56,234.50) rotate(0.2)" font-size="19.2" fill="#1c1c1c">PHONO</text>
<text transform="translate(80.51,275.40) rotate(0.2)" font-size="13.6" fill="#1c1c1c">Lch</text>
<text transform="translate(38.34,356.40) rotate(0.2)" font-size="19.2" fill="#1c1c1c">CD</text>
<text transform="translate(81.21,350.90) rotate(0.2)" font-size="13.6" fill="#1c1c1c">Rch</text>
<text transform="translate(80.21,421.70) rotate(0.2)" font-size="13.6" fill="#1c1c1c">Lch</text>
<text transform="translate(187.69,187.50) rotate(0.2)" font-size="12.2" letter-spacing="0.22" fill="#1c1c1c">6</text>
<text transform="translate(177.36,226.50) rotate(0.2)" font-size="12.2" letter-spacing="0.22" fill="#1c1c1c">4</text>
<text transform="translate(187.81,264.50) rotate(0.2)" font-size="12.2" letter-spacing="0.22" fill="#1c1c1c">5</text>
<text transform="translate(187.81,341.10) rotate(0.2)" font-size="12.2" letter-spacing="0.22" fill="#1c1c1c">3</text>
<text transform="translate(177.78,379.10) rotate(0.2)" font-size="12.2" letter-spacing="0.22" fill="#1c1c1c">1</text>
<text transform="translate(187.69,417.80) rotate(0.2)" font-size="12.2" letter-spacing="0.22" fill="#1c1c1c">2</text>
<text transform="translate(216.22,186.50) rotate(0.2)" font-size="12.2" letter-spacing="0.22" fill="#1c1c1c">R4302</text>
<text transform="translate(220.28,210.00) rotate(0.2)" font-size="12.2" letter-spacing="0.22" fill="#1c1c1c">1K</text>
<text transform="translate(208.02,257.70) rotate(0.2)" font-size="12.2" letter-spacing="0.22" fill="#1c1c1c">R4301</text>
<text transform="translate(221.28,283.30) rotate(0.2)" font-size="12.2" letter-spacing="0.22" fill="#1c1c1c">1K</text>
<text transform="translate(264.29,124.50) rotate(0.2)" font-size="12.2" letter-spacing="0.22" fill="#1c1c1c">C4304</text>
<text transform="translate(267.66,148.00) rotate(0.2)" font-size="12.2" letter-spacing="0.22" fill="#1c1c1c">47/50</text>
<text transform="translate(274.19,315.60) rotate(0.2)" font-size="12.2" letter-spacing="0.22" fill="#1c1c1c">C4303</text>
<text transform="translate(262.56,340.00) rotate(0.2)" font-size="12.2" letter-spacing="0.22" fill="#1c1c1c">47/50</text>
<text transform="translate(419.21,54.00) rotate(0.2)" font-size="12.2" letter-spacing="0.22" fill="#1c1c1c">5</text>
<text transform="translate(419.09,92.80) rotate(0.2)" font-size="12.2" letter-spacing="0.22" fill="#1c1c1c">6</text>
<text transform="translate(419.09,360.80) rotate(0.2)" font-size="12.2" letter-spacing="0.22" fill="#1c1c1c">2</text>
<text transform="translate(419.21,398.30) rotate(0.2)" font-size="12.2" letter-spacing="0.22" fill="#1c1c1c">3</text>
<text transform="translate(502.89,72.70) rotate(0.2)" font-size="12.2" letter-spacing="0.22" fill="#1c1c1c">7</text>
<text transform="translate(494.38,393.70) rotate(0.2)" font-size="12.2" letter-spacing="0.22" fill="#1c1c1c">1</text>
<text transform="translate(458.02,40.50) rotate(0.2)" font-size="12.2" letter-spacing="0.22" fill="#1c1c1c">NJM4580</text>
<text transform="translate(435.25,80.60) rotate(0.2)" font-size="12.2" letter-spacing="0.22" fill="#1c1c1c">Q4301A</text>
<text transform="translate(480.02,99.70) rotate(0.2)" font-size="12.2" letter-spacing="0.22" fill="#1c1c1c">R4314</text>
<text transform="translate(488.58,114.50) rotate(0.2)" font-size="12.2" letter-spacing="0.22" fill="#1c1c1c">1.2K</text>
<text transform="translate(537.39,67.10) rotate(0.2)" font-size="12.2" letter-spacing="0.22" fill="#1c1c1c">C4312</text>
<text transform="translate(544.89,95.80) rotate(0.2)" font-size="12.2" letter-spacing="0.22" fill="#1c1c1c">22/50</text>
<text transform="translate(584.92,66.30) rotate(0.2)" font-size="12.2" letter-spacing="0.22" fill="#1c1c1c">R4316</text>
<text transform="translate(590.15,92.00) rotate(0.2)" font-size="12.2" letter-spacing="0.22" fill="#1c1c1c">820</text>
<text transform="translate(408.59,147.60) rotate(0.2)" font-size="12.2" letter-spacing="0.22" fill="#1c1c1c">C4308</text>
<text transform="translate(413.16,167.50) rotate(0.2)" font-size="12.2" letter-spacing="0.22" fill="#1c1c1c">472J</text>
<text transform="translate(418.59,176.50) rotate(0.2)" font-size="12.2" letter-spacing="0.22" fill="#1c1c1c">C4320</text>
<text transform="translate(422.58,196.40) rotate(0.2)" font-size="12.2" letter-spacing="0.22" fill="#1c1c1c">102J</text>
<text transform="translate(408.22,205.50) rotate(0.2)" font-size="12.2" letter-spacing="0.22" fill="#1c1c1c">R4310</text>
<text transform="translate(414.31,227.00) rotate(0.2)" font-size="12.2" letter-spacing="0.22" fill="#1c1c1c">560K</text>
<text transform="translate(408.22,243.40) rotate(0.2)" font-size="12.2" letter-spacing="0.22" fill="#1c1c1c">R4309</text>
<text transform="translate(414.31,262.80) rotate(0.2)" font-size="12.2" letter-spacing="0.22" fill="#1c1c1c">560K</text>
<text transform="translate(418.59,272.80) rotate(0.2)" font-size="12.2" letter-spacing="0.22" fill="#1c1c1c">C4319</text>
<text transform="translate(422.58,291.90) rotate(0.2)" font-size="12.2" letter-spacing="0.22" fill="#1c1c1c">102J</text>
<text transform="translate(408.59,301.90) rotate(0.2)" font-size="12.2" letter-spacing="0.22" fill="#1c1c1c">C4307</text>
<text transform="translate(413.16,321.30) rotate(0.2)" font-size="12.2" letter-spacing="0.22" fill="#1c1c1c">472J</text>
<text transform="translate(474.69,147.60) rotate(0.2)" font-size="12.2" letter-spacing="0.22" fill="#1c1c1c">C4310</text>
<text transform="translate(480.69,167.00) rotate(0.2)" font-size="12.2" letter-spacing="0.22" fill="#1c1c1c">152J</text>
<text transform="translate(474.72,200.30) rotate(0.2)" font-size="12.2" letter-spacing="0.22" fill="#1c1c1c">R4312</text>
<text transform="translate(484.06,226.80) rotate(0.2)" font-size="12.2" letter-spacing="0.22" fill="#1c1c1c">47K</text>
<text transform="translate(474.72,243.20) rotate(0.2)" font-size="12.2" letter-spacing="0.22" fill="#1c1c1c">R4311</text>
<text transform="translate(484.26,262.90) rotate(0.2)" font-size="12.2" letter-spacing="0.22" fill="#1c1c1c">47K</text>
<text transform="translate(474.69,301.40) rotate(0.2)" font-size="12.2" letter-spacing="0.22" fill="#1c1c1c">C4309</text>
<text transform="translate(480.69,320.80) rotate(0.2)" font-size="12.2" letter-spacing="0.22" fill="#1c1c1c">152J</text>
<text transform="translate(479.32,358.40) rotate(0.2)" font-size="12.2" letter-spacing="0.22" fill="#1c1c1c">R4313</text>
<text transform="translate(486.88,373.50) rotate(0.2)" font-size="12.2" letter-spacing="0.22" fill="#1c1c1c">1.2K</text>
<text transform="translate(435.75,387.60) rotate(0.2)" font-size="12.2" letter-spacing="0.22" fill="#1c1c1c">Q4301B</text>
<text transform="translate(466.82,410.60) rotate(0.2)" font-size="12.2" letter-spacing="0.22" fill="#1c1c1c">NJM4580</text>
<text transform="translate(542.39,370.60) rotate(0.2)" font-size="12.2" letter-spacing="0.22" fill="#1c1c1c">C4311</text>
<text transform="translate(545.39,402.00) rotate(0.2)" font-size="12.2" letter-spacing="0.22" fill="#1c1c1c">22/50</text>
<text transform="translate(585.02,372.60) rotate(0.2)" font-size="12.2" letter-spacing="0.22" fill="#1c1c1c">R4315</text>
<text transform="translate(589.65,401.40) rotate(0.2)" font-size="12.2" letter-spacing="0.22" fill="#1c1c1c">820</text>
<text transform="translate(800.03,15.50) rotate(0.2)" font-size="13.3" fill="#1c1c1c">4.53mA</text>
<text transform="translate(800.62,42.60) rotate(0.2)" font-size="12.2" letter-spacing="0.22" fill="#1c1c1c">R4319</text>
<text transform="translate(792.38,61.60) rotate(0.2)" font-size="12.2" letter-spacing="0.22" fill="#1c1c1c">100(1/4W)</text>
<text transform="translate(800.62,128.30) rotate(0.2)" font-size="12.2" letter-spacing="0.22" fill="#1c1c1c">R4320</text>
<text transform="translate(792.38,147.60) rotate(0.2)" font-size="12.2" letter-spacing="0.22" fill="#1c1c1c">100(1/4W)</text>
<text transform="translate(800.03,168.20) rotate(0.2)" font-size="13.3" fill="#1c1c1c">4.53mA</text>
<text transform="translate(258.90,228.00) rotate(-90) scale(1,1.0)" font-size="12.0" fill="#1c1c1c">C4302</text>
<text transform="translate(278.80,223.00) rotate(-90) scale(1,1.0)" font-size="12.0" fill="#1c1c1c">221J</text>
<text transform="translate(296.50,229.66) rotate(-90) scale(1,1.0)" font-size="12.0" fill="#1c1c1c">R4304</text>
<text transform="translate(316.00,217.88) rotate(-90) scale(1,1.0)" font-size="12.0" fill="#1c1c1c">56K</text>
<text transform="translate(258.90,265.60) rotate(-90) scale(1,1.0)" font-size="12.0" fill="#1c1c1c">C4301</text>
<text transform="translate(278.80,261.10) rotate(-90) scale(1,1.0)" font-size="12.0" fill="#1c1c1c">221J</text>
<text transform="translate(296.50,265.96) rotate(-90) scale(1,1.0)" font-size="12.0" fill="#1c1c1c">R4303</text>
<text transform="translate(316.00,260.48) rotate(-90) scale(1,1.0)" font-size="12.0" fill="#1c1c1c">56K</text>
<text transform="translate(325.00,180.46) rotate(-90) scale(1,1.0)" font-size="12.0" fill="#1c1c1c">R4306</text>
<text transform="translate(345.20,174.00) rotate(-90) scale(1,1.0)" font-size="12.0" fill="#1c1c1c">220K</text>
<text transform="translate(325.50,314.56) rotate(-90) scale(1,1.0)" font-size="12.0" fill="#1c1c1c">R4305</text>
<text transform="translate(345.00,308.00) rotate(-90) scale(1,1.0)" font-size="12.0" fill="#1c1c1c">220K</text>
<text transform="translate(363.90,142.16) rotate(-90) scale(1,1.0)" font-size="12.0" fill="#1c1c1c">R4308</text>
<text transform="translate(382.70,138.30) rotate(-90) scale(1,1.0)" font-size="12.0" fill="#1c1c1c">1.2K</text>
<text transform="translate(363.90,218.00) rotate(-90) scale(1,1.0)" font-size="12.0" fill="#1c1c1c">C4306</text>
<text transform="translate(382.70,219.30) rotate(-90) scale(1,1.0)" font-size="12.0" fill="#1c1c1c">220/25</text>
<text transform="translate(363.90,275.70) rotate(-90) scale(1,1.0)" font-size="12.0" fill="#1c1c1c">C4305</text>
<text transform="translate(382.70,275.70) rotate(-90) scale(1,1.0)" font-size="12.0" fill="#1c1c1c">220/25</text>
<text transform="translate(363.90,352.26) rotate(-90) scale(1,1.0)" font-size="12.0" fill="#1c1c1c">R4307</text>
<text transform="translate(382.70,344.70) rotate(-90) scale(1,1.0)" font-size="12.0" fill="#1c1c1c">1.2K</text>
<text transform="translate(392.70,94.40) rotate(-90) scale(1,1.0)" font-size="12.0" fill="#1c1c1c">C4318</text>
<text transform="translate(412.20,89.40) rotate(-90) scale(1,1.0)" font-size="12.0" fill="#1c1c1c">221J</text>
<text transform="translate(392.70,400.10) rotate(-90) scale(1,1.0)" font-size="12.0" fill="#1c1c1c">C4317</text>
<text transform="translate(412.20,395.60) rotate(-90) scale(1,1.0)" font-size="12.0" fill="#1c1c1c">221J</text>
<text transform="translate(579.20,209.40) rotate(-90) scale(1,1.0)" font-size="12.0" fill="#1c1c1c">C4314</text>
<text transform="translate(593.30,204.40) rotate(-90) scale(1,1.0)" font-size="12.0" fill="#1c1c1c">222J</text>
<text transform="translate(621.40,209.76) rotate(-90) scale(1,1.0)" font-size="12.0" fill="#1c1c1c">R4318</text>
<text transform="translate(641.50,203.10) rotate(-90) scale(1,1.0)" font-size="12.0" fill="#1c1c1c">220K</text>
<text transform="translate(579.20,285.60) rotate(-90) scale(1,1.0)" font-size="12.0" fill="#1c1c1c">C4313</text>
<text transform="translate(593.30,280.40) rotate(-90) scale(1,1.0)" font-size="12.0" fill="#1c1c1c">222J</text>
<text transform="translate(621.40,285.96) rotate(-90) scale(1,1.0)" font-size="12.0" fill="#1c1c1c">R4317</text>
<text transform="translate(641.50,279.30) rotate(-90) scale(1,1.0)" font-size="12.0" fill="#1c1c1c">220K</text>
<text transform="translate(650.50,181.10) rotate(-90) scale(1,1.0)" font-size="12.0" fill="#1c1c1c">100/25</text>
<text transform="translate(666.80,180.10) rotate(-90) scale(1,1.0)" font-size="12.0" fill="#1c1c1c">C4315</text>
<text transform="translate(698.70,180.10) rotate(-90) scale(1,1.0)" font-size="12.0" fill="#1c1c1c">C4316</text>
<text transform="translate(719.00,181.10) rotate(-90) scale(1,1.0)" font-size="12.0" fill="#1c1c1c">100/25</text>
<text transform="translate(693.60,114.56) rotate(-90) scale(1,1.0)" font-size="12.0" fill="#1c1c1c">D4004</text>
<text transform="translate(708.50,104.76) rotate(-90) scale(1,1.0)" font-size="12.0" fill="#1c1c1c">NC</text>
<text transform="translate(757.60,203.76) rotate(-90) scale(1,1.0)" font-size="12.0" fill="#1c1c1c">D4005</text>
<text transform="translate(757.30,155.96) rotate(-90) scale(1,1.0)" font-size="12.0" fill="#1c1c1c">NC</text>
<text transform="translate(452.30,43.14) rotate(-90) scale(1,1.18)" font-size="12" fill="#1c1c1c">8</text>
<text transform="translate(451.80,115.84) rotate(-90) scale(1,1.1)" font-size="12" fill="#1c1c1c">4</text>
</svg>
</body></html>
